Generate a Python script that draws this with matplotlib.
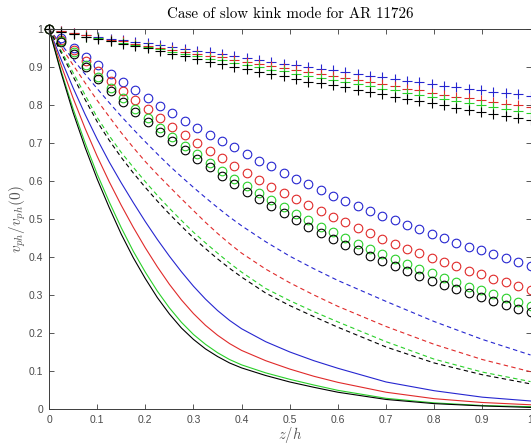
import numpy as np
import matplotlib
matplotlib.use("Agg")
import matplotlib.pyplot as plt

plt.rcParams['mathtext.fontset'] = 'cm'

# marker series: 40 samples over z/h in [0, 1]
z_pts = np.linspace(0, 1, 40)

plus_blue = [1.000, 0.995, 0.989, 0.984, 0.979, 0.974, 0.970, 0.966, 0.962, 0.957,
             0.952, 0.947, 0.943, 0.938, 0.933, 0.928, 0.923, 0.918, 0.913, 0.909,
             0.904, 0.899, 0.895, 0.891, 0.886, 0.882, 0.877, 0.873, 0.868, 0.864,
             0.860, 0.855, 0.851, 0.847, 0.843, 0.839, 0.835, 0.832, 0.828, 0.824]
plus_red = [1.000, 0.994, 0.988, 0.983, 0.977, 0.972, 0.967, 0.961, 0.956, 0.951,
            0.945, 0.940, 0.934, 0.929, 0.925, 0.919, 0.913, 0.907, 0.902, 0.897,
            0.891, 0.886, 0.881, 0.876, 0.871, 0.866, 0.860, 0.855, 0.849, 0.843,
            0.838, 0.832, 0.827, 0.822, 0.817, 0.812, 0.807, 0.803, 0.799, 0.795]
plus_green = [1.000, 0.993, 0.987, 0.980, 0.975, 0.969, 0.963, 0.958, 0.952, 0.946,
              0.940, 0.934, 0.928, 0.922, 0.917, 0.911, 0.905, 0.899, 0.893, 0.888,
              0.882, 0.876, 0.871, 0.865, 0.860, 0.854, 0.849, 0.843, 0.838, 0.832,
              0.827, 0.821, 0.816, 0.811, 0.805, 0.800, 0.795, 0.790, 0.785, 0.778]
plus_black = [1.000, 0.992, 0.986, 0.979, 0.973, 0.967, 0.961, 0.955, 0.949, 0.942,
              0.935, 0.928, 0.921, 0.914, 0.908, 0.901, 0.894, 0.887, 0.881, 0.875,
              0.868, 0.861, 0.857, 0.852, 0.846, 0.840, 0.834, 0.828, 0.822, 0.816,
              0.811, 0.805, 0.799, 0.793, 0.787, 0.782, 0.776, 0.771, 0.765, 0.760]

circ_blue = [1.000, 0.975, 0.951, 0.927, 0.904, 0.882, 0.861, 0.839, 0.818, 0.797,
             0.778, 0.759, 0.740, 0.722, 0.705, 0.688, 0.670, 0.653, 0.638, 0.622,
             0.606, 0.591, 0.576, 0.561, 0.548, 0.534, 0.521, 0.508, 0.497, 0.484,
             0.473, 0.461, 0.449, 0.438, 0.427, 0.417, 0.407, 0.397, 0.386, 0.376]
circ_red = [1.000, 0.972, 0.944, 0.916, 0.888, 0.862, 0.837, 0.812, 0.789, 0.765,
            0.743, 0.721, 0.701, 0.680, 0.660, 0.640, 0.621, 0.602, 0.585, 0.568,
            0.552, 0.536, 0.521, 0.506, 0.491, 0.477, 0.462, 0.448, 0.435, 0.422,
            0.410, 0.398, 0.386, 0.375, 0.364, 0.354, 0.343, 0.333, 0.323, 0.313]
circ_green = [1.000, 0.969, 0.938, 0.905, 0.874, 0.845, 0.817, 0.790, 0.765, 0.740,
              0.716, 0.693, 0.670, 0.648, 0.627, 0.606, 0.586, 0.567, 0.549, 0.531,
              0.514, 0.497, 0.480, 0.465, 0.450, 0.435, 0.421, 0.407, 0.394, 0.381,
              0.369, 0.357, 0.345, 0.334, 0.322, 0.312, 0.302, 0.291, 0.282, 0.272]
circ_black = [1.000, 0.966, 0.933, 0.899, 0.867, 0.837, 0.808, 0.781, 0.755, 0.729,
              0.704, 0.681, 0.658, 0.636, 0.614, 0.593, 0.572, 0.552, 0.533, 0.515,
              0.496, 0.478, 0.462, 0.447, 0.432, 0.417, 0.403, 0.389, 0.376, 0.363,
              0.350, 0.338, 0.326, 0.315, 0.304, 0.294, 0.284, 0.274, 0.264, 0.255]

# line series
z_line = [0, 0.025, 0.05, 0.075, 0.1, 0.125, 0.15, 0.175, 0.2, 0.225, 0.25, 0.275,
          0.3, 0.325, 0.35, 0.375, 0.4, 0.45, 0.5, 0.55, 0.6, 0.7, 0.8, 0.9, 1.0]

dash_blue = [1.0, 0.960, 0.920, 0.881, 0.843, 0.806, 0.770, 0.736, 0.703, 0.671, 0.640, 0.611,
             0.583, 0.556, 0.530, 0.505, 0.482, 0.440, 0.402, 0.369, 0.338, 0.283, 0.230,
             0.183, 0.142]
dash_red = [1.0, 0.953, 0.905, 0.858, 0.812, 0.769, 0.727, 0.688, 0.651, 0.617, 0.585, 0.553,
            0.522, 0.491, 0.462, 0.435, 0.410, 0.368, 0.332, 0.300, 0.270, 0.217, 0.170,
            0.130, 0.098]
dash_green = [1.0, 0.943, 0.885, 0.826, 0.767, 0.719, 0.675, 0.636, 0.598, 0.562, 0.528, 0.496,
              0.465, 0.437, 0.410, 0.384, 0.360, 0.317, 0.285, 0.256, 0.229, 0.177, 0.131,
              0.097, 0.072]
dash_black = [1.0, 0.938, 0.875, 0.814, 0.756, 0.707, 0.662, 0.621, 0.583, 0.547, 0.513, 0.481,
              0.450, 0.422, 0.395, 0.370, 0.347, 0.305, 0.272, 0.243, 0.215, 0.163, 0.121,
              0.090, 0.066]

solid_blue = [1.0, 0.920, 0.845, 0.775, 0.710, 0.650, 0.595, 0.543, 0.493, 0.446, 0.402, 0.361,
              0.323, 0.289, 0.259, 0.233, 0.211, 0.177, 0.150, 0.127, 0.107, 0.071, 0.048,
              0.031, 0.021]
solid_red = [1.0, 0.905, 0.818, 0.738, 0.665, 0.598, 0.536, 0.478, 0.424, 0.374, 0.328, 0.287,
             0.251, 0.220, 0.194, 0.172, 0.154, 0.127, 0.105, 0.086, 0.070, 0.044, 0.027,
             0.017, 0.011]
solid_green = [1.0, 0.890, 0.790, 0.700, 0.618, 0.545, 0.477, 0.415, 0.360, 0.310, 0.266, 0.228,
               0.196, 0.170, 0.148, 0.130, 0.116, 0.095, 0.078, 0.063, 0.049, 0.028, 0.016,
               0.009, 0.006]
solid_black = [1.0, 0.885, 0.780, 0.688, 0.605, 0.530, 0.460, 0.398, 0.343, 0.293, 0.250, 0.213,
               0.183, 0.158, 0.138, 0.121, 0.108, 0.088, 0.071, 0.057, 0.044, 0.025, 0.014,
               0.008, 0.004]

colors = ['#2626d0', '#e02a2a', '#2ad02a', '#000000']

fig = plt.figure(figsize=(5.31, 4.45), dpi=100)
ax = fig.add_axes([0.0923, 0.081, 0.9068, 0.854])

for ys, c in zip([solid_blue, solid_red, solid_green, solid_black], colors):
    ax.plot(z_line, ys, '-', color=c, lw=0.8)
for ys, c in zip([dash_blue, dash_red, dash_green, dash_black], colors):
    ax.plot(z_line, ys, '--', color=c, lw=0.8, dashes=(4, 3))
for ys, c in zip([circ_blue, circ_red, circ_green, circ_black], colors):
    ax.plot(z_pts, ys, 'o', mfc='none', mec=c, ms=6.2, mew=0.8, clip_on=False)
for ys, c in zip([plus_blue, plus_red, plus_green, plus_black], colors):
    ax.plot(z_pts, ys, '+', color=c, ms=6.5, mew=0.8, clip_on=False)

ax.set_xlim(0, 1)
ax.set_ylim(0, 1)
ticks = np.arange(0, 1.01, 0.1)
labels = ['0', '0.1', '0.2', '0.3', '0.4', '0.5', '0.6', '0.7', '0.8', '0.9', '1']
ax.set_xticks(ticks)
ax.set_xticklabels(labels)
ax.set_yticks(ticks)
ax.set_yticklabels(labels)

gray = '#3c3c3c'
ax.tick_params(direction='in', top=True, right=True, length=3.5, width=0.6,
               colors=gray, labelsize=7.5, pad=4)
ax.tick_params(labelcolor='#4a4a4a')
for lab in ax.get_xticklabels() + ax.get_yticklabels():
    lab.set_fontfamily('Liberation Sans')
for s in ax.spines.values():
    s.set_color(gray)
    s.set_linewidth(0.7)

ax.set_title('Case of slow kink mode for AR 11726', fontfamily='cmr10',
             fontsize=10.8, pad=8)
ax.set_xlabel('$z/h$', fontsize=10.5, color='#555555', labelpad=0)
ax.set_ylabel('$v_{ph}/v_{ph}(0)$', fontsize=11, color='#555555', labelpad=1)

fig.savefig('out.png', dpi=100)
